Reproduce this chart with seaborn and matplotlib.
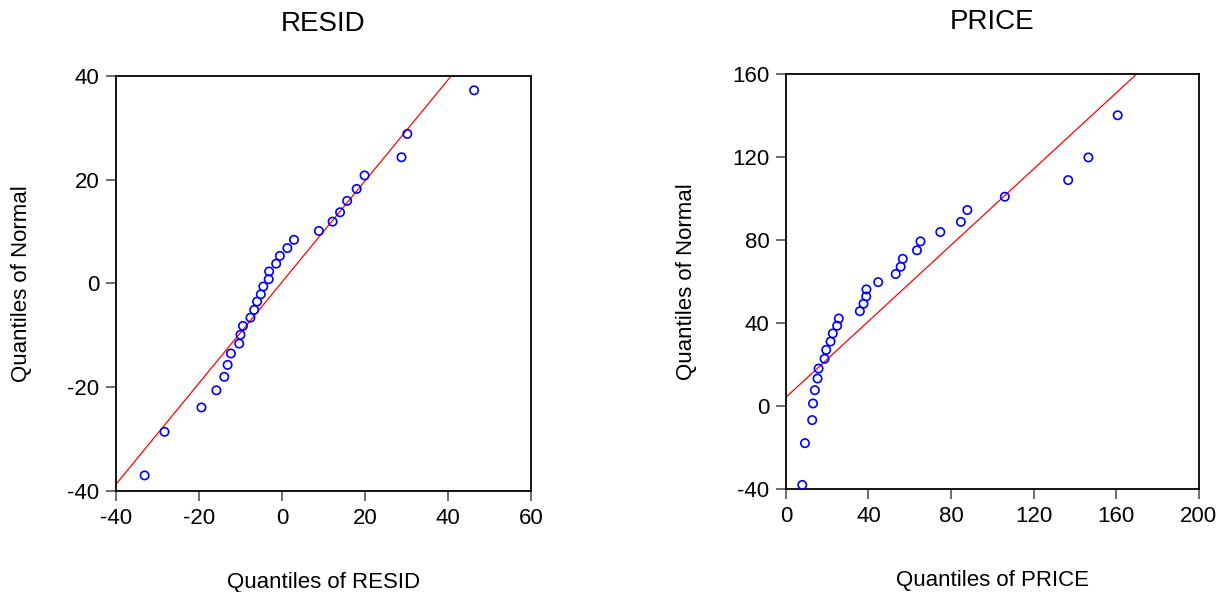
import numpy as np
import pandas as pd
import matplotlib
matplotlib.use("Agg")
import matplotlib.pyplot as plt
import seaborn as sns

# ---- data (sample quantile, normal quantile) ----
resid_q = [-33.1, -28.3, -19.4, -15.8, -13.9, -13.1, -12.3, -10.3, -10.0, -9.4,
           -7.6, -6.7, -6.0, -5.1, -4.5, -3.2, -3.1, -1.4, -0.5, 1.3,
           2.9, 8.9, 12.2, 14.0, 15.7, 18.0, 19.9, 28.8, 30.2, 46.3]
resid_norm = [-37.0, -28.6, -23.9, -20.6, -18.0, -15.7, -13.5, -11.6, -9.9, -8.2,
              -6.6, -5.1, -3.5, -2.1, -0.6, 0.8, 2.3, 3.8, 5.3, 6.8,
              8.4, 10.1, 11.9, 13.7, 15.9, 18.2, 20.8, 24.3, 28.8, 37.2]
resid_line = (0.26, 0.974)   # intercept, slope of reference line

price_q = [7.9, 9.2, 12.7, 13.1, 14.0, 15.3, 15.8, 18.7, 19.5, 21.6,
           22.7, 24.8, 25.6, 35.8, 37.6, 38.9, 39.0, 44.7, 53.2, 55.6,
           56.6, 63.5, 65.2, 74.8, 84.8, 87.9, 106.1, 136.8, 146.6, 160.8]
price_norm = [-37.9, -17.8, -6.7, 1.3, 7.7, 13.3, 18.1, 22.8, 27.1, 31.1,
              35.0, 38.7, 42.2, 45.7, 49.3, 52.8, 56.2, 59.7, 63.6, 67.1,
              70.9, 75.0, 79.3, 83.8, 88.7, 94.4, 100.8, 108.8, 119.7, 140.0]
price_line = (4.3, 0.915)

panels = [
    ("RESID", resid_q, resid_norm, resid_line, (-40, 60), [-40, -20, 0, 20, 40, 60],
     (-40, 40), [-40, -20, 0, 20, 40]),
    ("PRICE", price_q, price_norm, price_line, (0, 200), [0, 40, 80, 120, 160, 200],
     (-40, 160), [-40, 0, 40, 80, 120, 160]),
]

sns.set_style("white")
plt.rcParams['font.family'] = ['Liberation Sans', 'DejaVu Sans']
plt.rcParams['axes.unicode_minus'] = False
plt.rcParams['text.color'] = 'black'
plt.rcParams['axes.labelcolor'] = 'black'
plt.rcParams['xtick.labelcolor'] = 'black'
plt.rcParams['ytick.labelcolor'] = 'black'

fig = plt.figure(figsize=(12.26, 5.92), dpi=100)
boxes = [[0.0946, 0.1706, 0.3385, 0.7014],
         [0.6411, 0.1735, 0.3365, 0.7020]]

for box, (name, xq, yq, line, xlim, xticks, ylim, yticks) in zip(boxes, panels):
    ax = fig.add_axes(box)
    df = pd.DataFrame({"x": xq, "y": yq})
    a, b = line
    ax.axline((0, a), slope=b, color="red", lw=0.9, zorder=2)
    sns.scatterplot(data=df, x="x", y="y", ax=ax, marker="o", s=36,
                    facecolor="none", edgecolor="#0000ff", linewidth=1.2, zorder=3)
    ax.set_xlim(*xlim)
    ax.set_ylim(*ylim)
    ax.set_xticks(xticks)
    ax.set_yticks(yticks)
    ax.tick_params(axis="both", direction="out", length=7, width=1.2,
                   color="#555555", labelsize=16, pad=5, left=True, bottom=True)
    for sp in ax.spines.values():
        sp.set_color("black")
        sp.set_linewidth(1.3)
    ax.set_title(name, fontsize=20, pad=32)
    ax.set_xlabel(f"Quantiles of {name}", fontsize=16, labelpad=31)
    ax.set_ylabel("Quantiles of Normal", fontsize=16, labelpad=25)

fig.savefig("out.png", dpi=100)
